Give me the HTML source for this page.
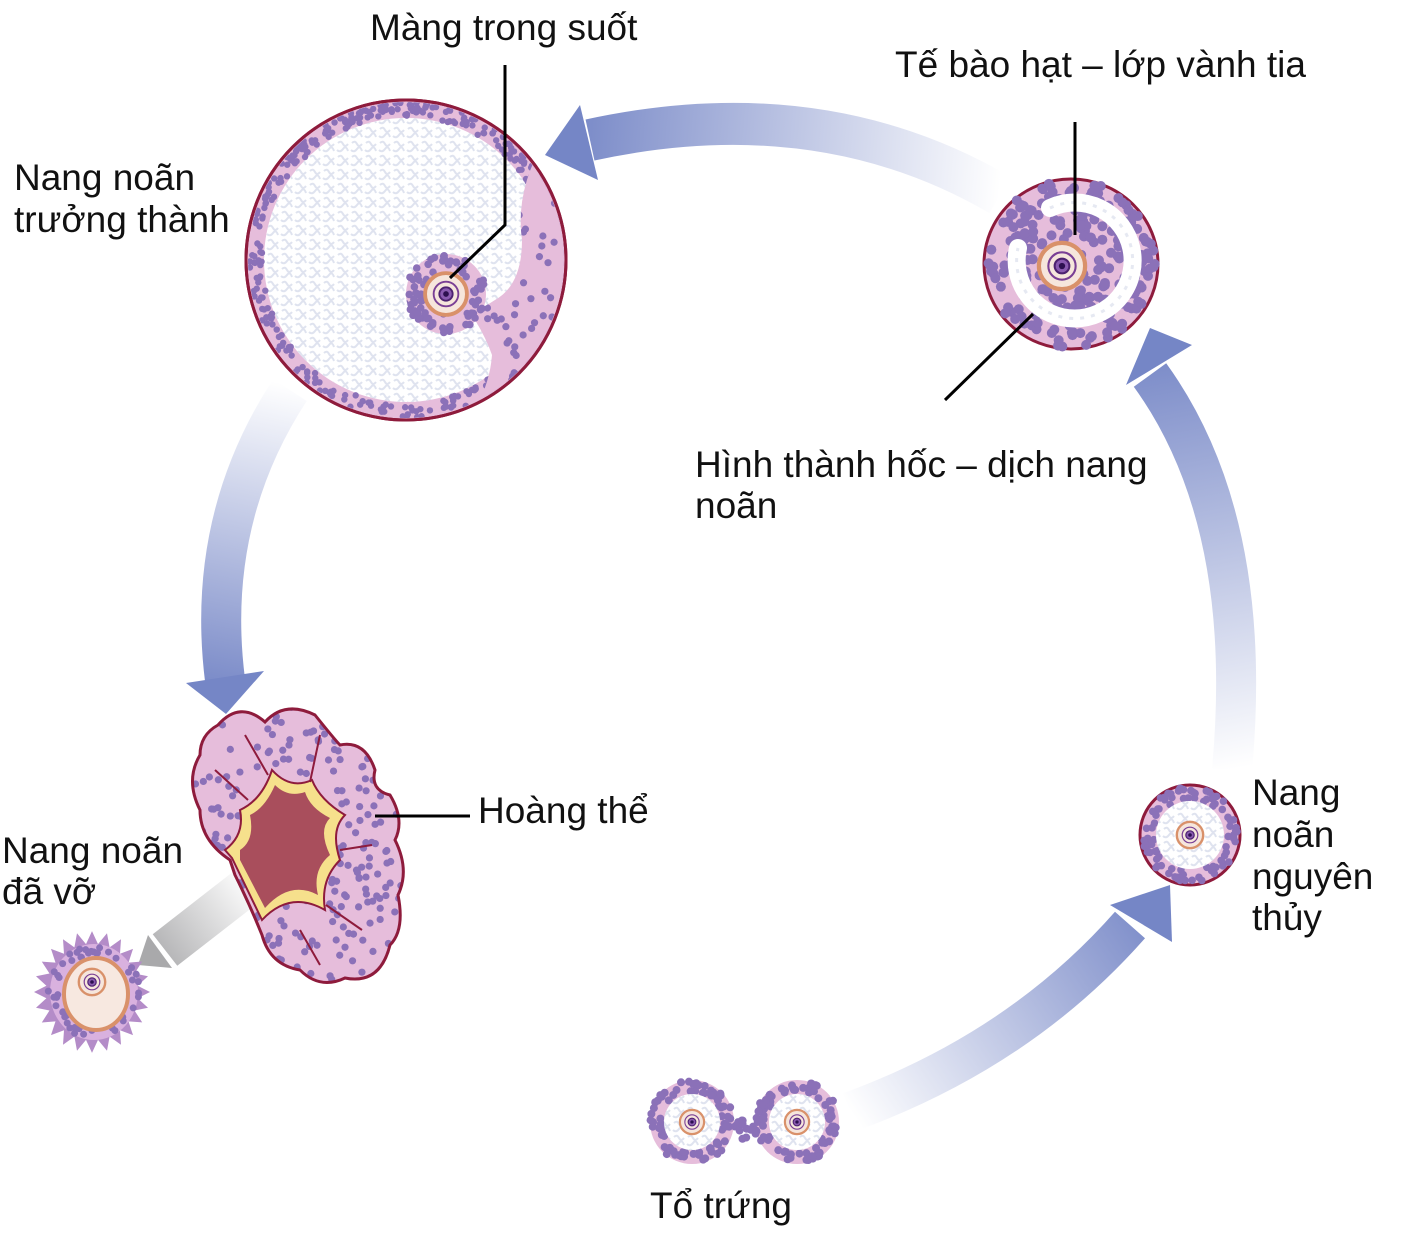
<!DOCTYPE html>
<html><head><meta charset="utf-8"><style>
body{margin:0;background:#fff;}
svg text{font-family:"Liberation Sans",sans-serif;font-size:37px;fill:#111;}
</style></head><body>
<svg id="s" width="1411" height="1242" viewBox="0 0 1411 1242" xmlns="http://www.w3.org/2000/svg">
<defs>
<linearGradient id="gTop" gradientUnits="userSpaceOnUse" x1="1000" y1="190" x2="560" y2="150"><stop offset="0" stop-color="#fff"/><stop offset="1" stop-color="#7586c6"/></linearGradient>
<linearGradient id="gLeft" gradientUnits="userSpaceOnUse" x1="290" y1="385" x2="225" y2="700"><stop offset="0" stop-color="#fff"/><stop offset="1" stop-color="#7586c6"/></linearGradient>
<linearGradient id="gRight" gradientUnits="userSpaceOnUse" x1="1230" y1="770" x2="1150" y2="340"><stop offset="0" stop-color="#fff"/><stop offset="1" stop-color="#7586c6"/></linearGradient>
<linearGradient id="gBot" gradientUnits="userSpaceOnUse" x1="850" y1="1110" x2="1160" y2="900"><stop offset="0" stop-color="#fff"/><stop offset="1" stop-color="#7586c6"/></linearGradient>
<linearGradient id="gGray" gradientUnits="userSpaceOnUse" x1="250" y1="880" x2="145" y2="960"><stop offset="0" stop-color="#fff"/><stop offset="1" stop-color="#a9a9ab"/></linearGradient>
<pattern id="tex" width="14" height="14" patternUnits="userSpaceOnUse"><path d="M2 3q3 -3 5 1t5 0M1 10q3 3 6 -1t5 2" stroke="#dfe3ef" stroke-width="2" fill="none"/></pattern>
<clipPath id="clc"><path id="clp" d="M218 725 Q240 700 265 722 Q285 700 315 715 Q335 740 340 745 Q365 740 375 770 Q370 790 390 795 Q405 820 395 840 Q410 870 398 895 Q405 930 390 945 Q380 985 345 978 Q320 990 300 970 Q270 965 262 935 Q250 905 235 875 L230 860 Q200 840 200 810 Q185 780 200 755 Q200 735 218 725Z"/></clipPath>
<clipPath id="cm"><circle cx="406" cy="260" r="158"/></clipPath>
<clipPath id="mound"><path id="mp" d="M545 140 Q515 190 522 240 Q522 285 495 300 Q480 310 470 312 Q485 335 492 355 Q490 385 470 420 L570 420 L570 140Z"/><circle cx="446" cy="294" r="40"/></clipPath>
</defs>
<path d="M1000 195 Q820 90 590 140" stroke="url(#gTop)" stroke-width="42" fill="none"/>
<polygon points="545,155 580,105 598,180" fill="#7586c6"/>
<path d="M290 390 Q205 520 225 680" stroke="url(#gLeft)" stroke-width="40" fill="none"/>
<polygon points="226,714 186,683 264,671" fill="#7586c6"/>
<path d="M1232 770 Q1255 520 1150 375" stroke="url(#gRight)" stroke-width="40" fill="none"/>
<polygon points="1150,328 1126,385 1192,345" fill="#7586c6"/>
<path d="M850 1112 Q1020 1050 1130 925" stroke="url(#gBot)" stroke-width="40" fill="none"/>
<polygon points="1170,885 1110,905 1172,942" fill="#7586c6"/>
<path d="M255 880 L165 950" stroke="url(#gGray)" stroke-width="40" fill="none"/>
<polygon points="138,965 148,935 172,968" fill="#a9a9ab"/>
<g id="art"></g>
<text x="370" y="40">Màng trong suốt</text>
<text x="895" y="77">Tế bào hạt – lớp vành tia</text>
<text x="14" y="190">Nang noãn</text>
<text x="14" y="232">trưởng thành</text>
<text x="695" y="477">Hình thành hốc – dịch nang</text>
<text x="695" y="518">noãn</text>
<text x="478" y="823">Hoàng thể</text>
<text x="2" y="863">Nang noãn</text>
<text x="2" y="904">đã vỡ</text>
<text x="1252" y="805">Nang</text>
<text x="1252" y="847">noãn</text>
<text x="1252" y="889">nguyên</text>
<text x="1252" y="930">thủy</text>
<text x="650" y="1218">Tổ trứng</text>
<g stroke="#000" stroke-width="3" fill="none">
<path d="M505 65 V225 L450 278"/>
<path d="M1075 122 V235"/>
<path d="M945 400 L1033 314"/>
<path d="M375 816 H470"/>
</g>
</svg>
<script>
var NS="http://www.w3.org/2000/svg",art=document.getElementById("art");
var seed=7;function rnd(){seed=(seed*16807)%2147483647;return seed/2147483647;}
function el(t,a,p){var e=document.createElementNS(NS,t);for(var k in a)e.setAttribute(k,a[k]);(p||art).appendChild(e);return e;}
var PINK="#e6bddb",DOT="#8b71b8",RIM="#8e1b3c";
function ring(cx,cy,r1,r2,n,dr,p){for(var i=0;i<n;i++){var a=rnd()*6.283,r=Math.sqrt(r1*r1+rnd()*(r2*r2-r1*r1));el("circle",{cx:cx+r*Math.cos(a),cy:cy+r*Math.sin(a),r:dr,fill:DOT},p);}}
function oocyte(cx,cy,s){el("circle",{cx:cx,cy:cy,r:22*s,fill:"#f6e6dc",stroke:"#d9916a","stroke-width":4*s});el("circle",{cx:cx,cy:cy,r:13*s,fill:"none",stroke:"#7a3f95","stroke-width":2*s});el("circle",{cx:cx,cy:cy,r:7*s,fill:"#8a5bb0",stroke:"#4d2270","stroke-width":2*s});el("circle",{cx:cx,cy:cy,r:3*s,fill:"#2d1050"});}
// mature follicle
el("circle",{cx:406,cy:260,r:160,fill:PINK,stroke:RIM,"stroke-width":3});
el("circle",{cx:406,cy:260,r:142,fill:"#fff"});
el("circle",{cx:406,cy:260,r:142,fill:"url(#tex)"});
var g=el("g",{"clip-path":"url(#cm)"});
ring(406,260,144,158,380,3.2,g);
var g3=el("g",{"clip-path":"url(#mound)"},g);
el("rect",{x:400,y:130,width:170,height:300,fill:PINK},g3);
for(var i=0;i<150;i++){var x=400+rnd()*170,y=130+rnd()*300;el("circle",{cx:x,cy:y,r:3.6,fill:DOT},g3);}
ring(446,294,24,40,70,3.8,g);
el("circle",{cx:406,cy:260,r:160,fill:"none",stroke:RIM,"stroke-width":3});
oocyte(446,294,0.95);
// antral follicle
el("ellipse",{cx:1071,cy:264,rx:87,ry:85,fill:PINK,stroke:RIM,"stroke-width":3});
ring(1071,264,0,84,260,5);
el("path",{d:"M1050 208 A58 58 0 1 1 1018 248",fill:"none",stroke:"#fff","stroke-width":18,"stroke-linecap":"round"});
el("path",{d:"M1050 208 A58 58 0 1 1 1018 248",fill:"none",stroke:"#e6e9f2","stroke-width":3,"stroke-dasharray":"4 7"});
el("circle",{cx:1062,cy:266,r:22,fill:"#fff"});
oocyte(1062,266,1.05);
// primordial
el("circle",{cx:1190,cy:835,r:50,fill:PINK,stroke:RIM,"stroke-width":3});
ring(1190,835,36,48,90,3.8);
el("circle",{cx:1190,cy:835,r:34,fill:"#fff"});
el("circle",{cx:1190,cy:835,r:34,fill:"url(#tex)"});
oocyte(1190,835,0.6);
// egg nest
[[692,1122],[797,1122]].forEach(function(c){el("circle",{cx:c[0],cy:c[1],r:42,fill:PINK});ring(c[0],c[1],30,42,80,4);el("circle",{cx:c[0],cy:c[1],r:28,fill:"#fff"});el("circle",{cx:c[0],cy:c[1],r:28,fill:"url(#tex)"});oocyte(c[0],c[1],0.55);});
ring(745,1128,0,12,14,4);
// corpus luteum
var cl=document.getElementById("clp").getAttribute("d");
el("path",{d:cl,fill:PINK});
var g2=el("g",{"clip-path":"url(#clc)"});
for(var i=0;i<330;i++){var x=195+rnd()*215,y=700+rnd()*290;el("circle",{cx:x,cy:y,r:3.6,fill:DOT},g2);}
el("path",{d:cl,fill:"none",stroke:RIM,"stroke-width":3});
el("path",{d:"M232 858 L262 920 Q290 890 325 910 Q320 880 340 860 Q330 830 345 815 Q320 800 312 780 Q290 790 272 770 Q262 800 240 810 Q245 835 225 850Z",fill:"#f6e08c",stroke:RIM,"stroke-width":2});
el("path",{d:"M240 860 L265 908 Q290 880 318 895 Q312 870 330 855 Q318 830 330 818 Q310 808 305 792 Q288 798 275 785 Q265 808 250 815 Q255 840 240 850Z",fill:"#a94e5c"});
[[248,800,215,770],[268,775,245,735],[310,782,320,735],[340,850,372,845],[326,905,362,930],[300,930,320,965]].forEach(function(l){el("path",{d:"M"+l[0]+" "+l[1]+" L"+l[2]+" "+l[3],stroke:RIM,"stroke-width":2,fill:"none"});});
// released oocyte
var pts=[];for(var i=0;i<48;i++){var a=i/48*6.283,r=(i%2?46:58);pts.push((92+r*Math.cos(a)).toFixed(1)+","+(992+r*1.05*Math.sin(a)).toFixed(1));}
el("polygon",{points:pts.join(" "),fill:"#b48cc8"});
el("ellipse",{cx:94,cy:992,rx:44,ry:48,fill:"#d9b1df"});
ring(94,992,36,46,50,3.5);
el("ellipse",{cx:96,cy:994,rx:32,ry:36,fill:"#f7e8e0",stroke:"#d9916a","stroke-width":4});
oocyte(92,982,0.6);
</script>
</body></html>
